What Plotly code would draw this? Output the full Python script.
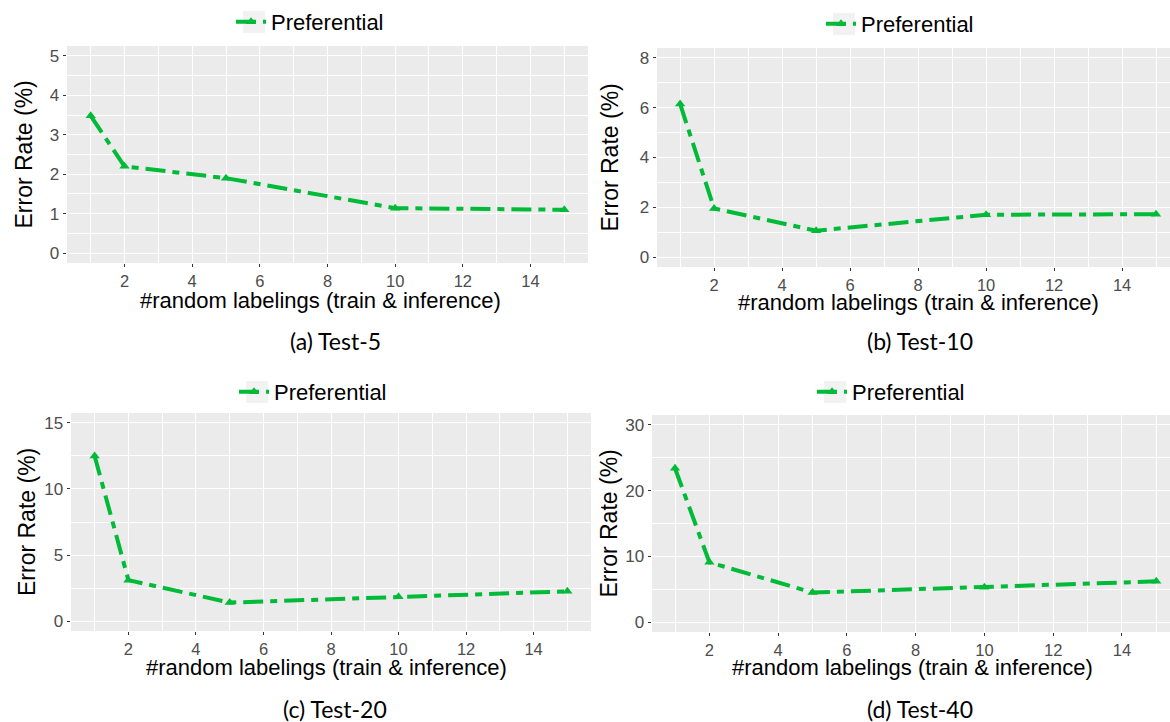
import plotly.graph_objects as go

# ---- data ----
x_labelings = [1, 2, 5, 10, 15]
err_test5 = [3.48, 2.2, 1.9, 1.14, 1.1]
err_test10 = [6.15, 1.95, 1.06, 1.7, 1.72]
err_test20 = [12.5, 3.1, 1.4, 1.85, 2.25]
err_test40 = [23.4, 9.1, 4.5, 5.3, 6.2]
series_name = "Preferential"
captions = ["(a) Test-5", "(b) Test-10", "(c) Test-20", "(d) Test-40"]
x_title = "#random labelings (train & inference)"
y_title = "Error Rate (%)"

W, H = 1170, 722
GREEN = "#00BA38"

panels = [
    dict(y=err_test5, xd=(67, 588), yd=(46, 263), xr=[0.3, 15.7], yr=[-0.25, 5.25], dy=1, mdy=0.5,
         leg=(231, 22), cap=(335, 341), ytc=23, xtc=(320, 300)),
    dict(y=err_test10, xd=(657, 1170), yd=(48, 267), xr=[0.32, 15.41], yr=[-0.4, 8.4], dy=2, mdy=1,
         leg=(821, 24), cap=(920, 341), ytc=610, xtc=(918, 302)),
    dict(y=err_test20, xd=(71, 591), yd=(413, 631), xr=[0.3, 15.7], yr=[-0.75, 15.75], dy=5, mdy=2.5,
         leg=(234, 392), cap=(335, 709), ytc=27, xtc=(326, 667)),
    dict(y=err_test40, xd=(652, 1170), yd=(415, 632), xr=[0.33, 15.4], yr=[-1.5, 31.5], dy=10, mdy=5,
         leg=(812, 392), cap=(920, 709), ytc=608, xtc=(912, 667)),
]

fig = go.Figure()
annotations = []
shapes = []
layout = dict(width=W, height=H, margin=dict(l=0, r=0, t=0, b=0),
              paper_bgcolor="white", plot_bgcolor="#EBEBEB", showlegend=True,
              font=dict(family="Liberation Sans, Arial, sans-serif", color="black"))

for i, p in enumerate(panels):
    n = "" if i == 0 else str(i + 1)
    leg = "legend" if i == 0 else f"legend{i+1}"
    fig.add_trace(go.Scatter(
        x=x_labelings, y=p["y"], mode="lines+markers", name=series_name,
        xaxis="x" + n, yaxis="y" + n, legend=leg,
        line=dict(color=GREEN, width=4, dash="20px,7px,7px,7px"),
        marker=dict(symbol="triangle-up", size=9, color=GREEN),
        cliponaxis=False,
    ))
    xd = [p["xd"][0] / W, min(p["xd"][1] / W, 1.0)]
    yd = [1 - p["yd"][1] / H, 1 - p["yd"][0] / H]
    layout["xaxis" + n] = dict(
        domain=xd, range=p["xr"], anchor="y" + n, tick0=0, dtick=2,
        showgrid=True, gridcolor="white", gridwidth=1.1, zeroline=False,
        ticks="outside", ticklen=3, tickcolor="#333333", tickwidth=1,
        tickfont=dict(size=16.5, color="#4D4D4D"), showline=False,
        minor=dict(dtick=1, tick0=0, showgrid=True, gridcolor="white", gridwidth=0.5, ticks=""),
    )
    layout["yaxis" + n] = dict(
        domain=yd, range=p["yr"], anchor="x" + n, tick0=0, dtick=p["dy"],
        showgrid=True, gridcolor="white", gridwidth=1.1, zeroline=False,
        ticks="outside", ticklen=3.5, tickcolor="#333333", tickwidth=1,
        tickfont=dict(size=17, color="#4D4D4D"), showline=False,
        minor=dict(dtick=p["mdy"], tick0=0, showgrid=True, gridcolor="white", gridwidth=0.5, ticks=""),
    )
    lx, ly = p["leg"]
    layout[leg] = dict(x=lx / W, y=1 - ly / H, xanchor="left", yanchor="middle",
                       bgcolor="rgba(0,0,0,0)", borderwidth=0, itemwidth=30,
                       font=dict(size=22, color="black"))
    # grey legend key box
    kx = lx + 12
    shapes.append(dict(type="rect", xref="paper", yref="paper", layer="below",
                       x0=kx / W, x1=(kx + 22) / W, y0=1 - (ly + 11) / H, y1=1 - (ly - 11) / H,
                       fillcolor="#F2F2F2", line=dict(width=0)))
    annotations.append(dict(text=captions[i], x=p["cap"][0] / W, y=1 - p["cap"][1] / H,
                            xref="paper", yref="paper", showarrow=False, xanchor="center", yanchor="middle",
                            font=dict(family="Lato, Open Sans, sans-serif", size=23, color="black")))
    annotations.append(dict(text=y_title, x=p["ytc"] / W, y=1 - (sum(p["yd"]) / 2) / H, textangle=-90,
                            xref="paper", yref="paper", showarrow=False, xanchor="center", yanchor="middle",
                            font=dict(size=23, color="black")))
    annotations.append(dict(text=x_title, x=p["xtc"][0] / W, y=1 - p["xtc"][1] / H,
                            xref="paper", yref="paper", showarrow=False, xanchor="center", yanchor="middle",
                            font=dict(size=22, color="black")))

layout["annotations"] = annotations
layout["shapes"] = shapes
fig.update_layout(**layout)
fig.write_html("out.html")
